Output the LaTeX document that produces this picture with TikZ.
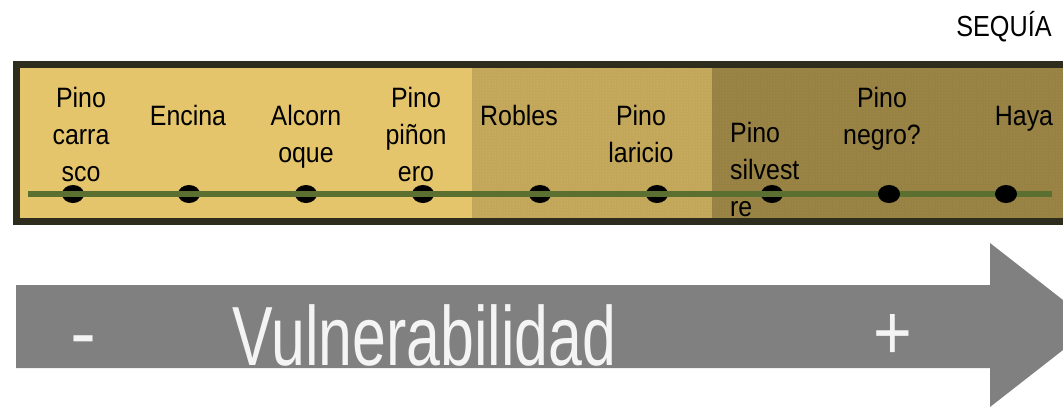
\documentclass[tikz,border=0pt]{standalone}
\usepackage{fontspec}
\setmainfont{Liberation Sans}
\usetikzlibrary{patterns,shapes.geometric}
\definecolor{yel}{HTML}{E5C56C}
\definecolor{midc}{HTML}{C2A65A}
\definecolor{darkc}{HTML}{978244}
\definecolor{dotl}{HTML}{D8BE72}
\definecolor{dotd}{HTML}{AA9656}
\definecolor{frame}{HTML}{2E2C1C}
\definecolor{grn}{HTML}{5B7030}
\definecolor{arrg}{HTML}{808080}
\definecolor{wtxt}{HTML}{F4F4F4}
\tikzset{
  lbl/.style={font=\fontsize{28}{32}\selectfont, xscale=0.89, text=black, inner sep=0pt, anchor=base},
  lbll/.style={lbl, anchor=base west},
  dot/.style={ellipse, fill=black, minimum width=22pt, minimum height=18pt, inner sep=0pt},
  big/.style={font=\fontsize{84}{90}\selectfont, text=wtxt, inner sep=0pt, anchor=base},
  sign/.style={font=\fontsize{78}{90}\selectfont, text=wtxt, inner sep=0pt, anchor=base}
}
\begin{document}
\begin{tikzpicture}[x=1pt,y=-1pt]
\useasboundingbox (0,0) rectangle (1063,408);
\clip (0,0) rectangle (1063,408);
\fill[white] (0,0) rectangle (1063,408);
% sections
\fill[yel] (16,64) rectangle (472,222);
\fill[midc] (472,64) rectangle (712,222);
\fill[pattern=dots, pattern color=dotl] (472,64) rectangle (712,222);
\fill[darkc] (712,64) rectangle (1080,222);
\fill[pattern=dots, pattern color=dotd] (712,64) rectangle (1080,222);
\draw[frame, line width=6.5pt] (16.5,64.5) rectangle (1080,221.5);
% title
\node[font=\fontsize{29}{32}\selectfont, xscale=0.87, inner sep=0pt, anchor=base] (seq) at (1004,36) {SEQUÍA};
% dots under line
\node[dot] (d1) at (73,194) {};
\node[dot] (d2) at (189,194) {};
\node[dot] (d3) at (306,194) {};
\node[dot] (d4) at (423,194) {};
\node[dot] (d5) at (540,194) {};
\node[dot] (d6) at (657,194) {};
\node[dot] (d7) at (772,194) {};
\coordinate (ls) at (28,194);
\coordinate (le) at (1052,194);
\draw[grn, line width=6.5pt] (ls) -- (le);
\node[dot] (d8) at (889,194) {};
\node[dot] (d9) at (1006,194) {};
% labels
\node[lbl] (a1) at (81,107) {Pino};
\node[lbl] (a2) at (81,144) {carra};
\node[lbl] (a3) at (81,181) {sco};
\node[lbl] (b1) at (188,125) {Encina};
\node[lbl] (c1) at (306,125) {Alcorn};
\node[lbl] (c2) at (306,162) {oque};
\node[lbl] (e1) at (416,107) {Pino};
\node[lbl] (e2) at (416,144) {piñon};
\node[lbl] (e3) at (416,181) {ero};
\node[lbl] (f1) at (519,125) {Robles};
\node[lbl] (g1) at (641,125) {Pino};
\node[lbl] (g2) at (641,162) {laricio};
\node[lbll] (h1) at (730,142) {Pino};
\node[lbll] (h2) at (730,179) {silvest};
\node[lbll] (h3) at (730,216) {re};
\node[lbl] (i1) at (882,107) {Pino};
\node[lbl] (i2) at (882,144) {negro?};
\node[lbl] (j1) at (1024,125) {Haya};
% arrow
\fill[arrg] (16,285) -- (990,285) -- (990,243) -- (1095,325) -- (990,407) -- (990,368) -- (16,368) -- cycle;
\node[sign] (mn) at (83,359) {-};
\node[sign, xscale=0.85] (pl) at (893,359) {+};
\node[big, xscale=0.724] (vul) at (424.5,365) {Vulnerabilidad};
\end{tikzpicture}
\end{document}
